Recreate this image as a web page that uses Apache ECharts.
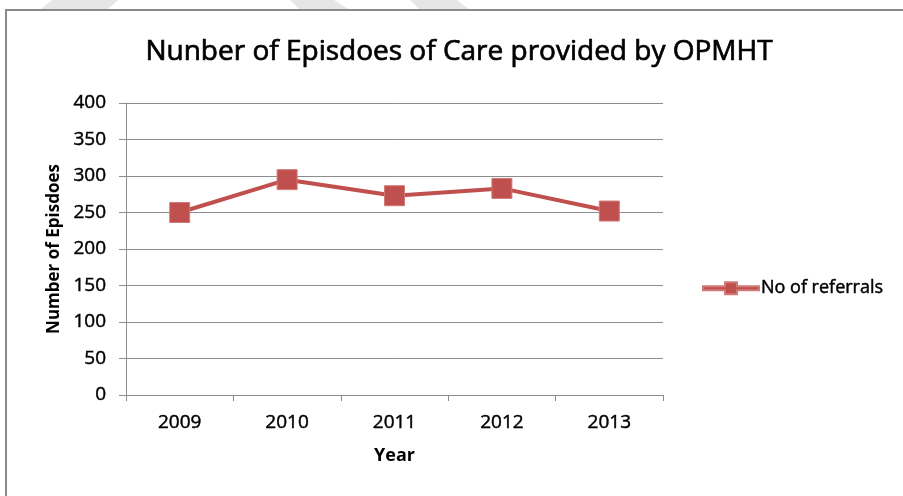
<!DOCTYPE html>
<html>
<head>
<meta charset="utf-8">
<script src="https://cdn.jsdelivr.net/npm/echarts@6/dist/echarts.min.js"></script>
<style>
  html, body { margin: 0; padding: 0; background: #ffffff; }
  #chart { width: 903px; height: 496px; }
</style>
</head>
<body>
<div id="chart"></div>
<script>
// Episodes of care per year
const years = ['2009', '2010', '2011', '2012', '2013'];
const referrals = [250, 295, 273, 283, 252];
const yTicks = { min: 0, max: 400, interval: 50 };

const seriesColor = '#c0504d';
const gridColor = '#8c8c8c';
const font = '"Open Sans", "Noto Sans", sans-serif';
// a thin outline makes the regular-weight text a little heavier
const heavier = { textBorderColor: '#000000', textBorderWidth: 0.45 };

const chart = echarts.init(document.getElementById('chart'), null, { renderer: 'canvas' });

chart.setOption({
  backgroundColor: '#ffffff',
  animation: false,
  title: {
    text: 'Nunber of Episdoes of Care provided by OPMHT',
    left: 459,
    top: 38,
    padding: 0,
    textAlign: 'center',
    textStyle: { fontFamily: font, fontSize: 28, fontWeight: 'normal', color: '#000000', textBorderColor: '#000000', textBorderWidth: 0.7 }
  },
  graphic: [
    // light diagonal bands along the top edge
    { type: 'polygon', silent: true, z: -1, shape: { points: [[52, 0], [118, 0], [107, 10], [40, 10]] }, style: { fill: '#e6e6e6' } },
    { type: 'polygon', silent: true, z: -1, shape: { points: [[290, 0], [334, 0], [350, 10], [300, 10]] }, style: { fill: '#e6e6e6' } },
    { type: 'polygon', silent: true, z: -1, shape: { points: [[410, 0], [457, 0], [470, 10], [420, 10]] }, style: { fill: '#e6e6e6' } },
    // chart frame
    { type: 'rect', silent: true, shape: { x: 6, y: 10, width: 910, height: 500 }, style: { fill: 'none', stroke: '#8a8a8a', lineWidth: 2 } }
  ],
  legend: {
    left: 702,
    top: 279,
    padding: 0,
    itemWidth: 56,
    itemHeight: 12,
    icon: 'path://M0,4 L22,4 L22,0 L34,0 L34,4 L56,4 L56,8 L34,8 L34,12 L22,12 L22,8 L0,8 Z',
    textStyle: Object.assign({ fontFamily: font, fontSize: 18, color: '#000000', padding: [0, 0, 0, -3] }, heavier),
    data: ['No of referrals']
  },
  grid: { left: 126, right: 240, top: 103, bottom: 101 },
  xAxis: {
    type: 'category',
    data: years,
    boundaryGap: true,
    name: 'Year',
    nameLocation: 'middle',
    nameGap: 52,
    nameTextStyle: { fontFamily: font, fontSize: 18, fontWeight: 'bold', color: '#000000' },
    axisLine: { lineStyle: { color: gridColor, width: 1 } },
    axisTick: { show: true, length: 6, alignWithLabel: false, lineStyle: { color: gridColor } },
    axisLabel: Object.assign({ fontFamily: font, fontSize: 19, color: '#000000', margin: 18 }, heavier)
  },
  yAxis: {
    type: 'value',
    min: yTicks.min,
    max: yTicks.max,
    interval: yTicks.interval,
    name: 'Number of Episdoes',
    nameLocation: 'middle',
    nameGap: 62,
    nameRotate: 90,
    nameTextStyle: { fontFamily: font, fontSize: 17, fontWeight: 'bold', color: '#000000' },
    axisLine: { show: true, lineStyle: { color: gridColor, width: 1 } },
    axisTick: { show: true, length: 7, inside: false, lineStyle: { color: gridColor } },
    axisLabel: Object.assign({ fontFamily: font, fontSize: 19, color: '#000000', margin: 20 }, heavier),
    splitLine: { show: true, lineStyle: { color: gridColor, width: 1 } }
  },
  series: [{
    name: 'No of referrals',
    type: 'line',
    data: referrals,
    symbol: 'rect',
    symbolSize: 20,
    lineStyle: { color: seriesColor, width: 4 },
    itemStyle: { color: seriesColor, borderColor: '#d07a77', borderWidth: 1 }
  }]
});
</script>
</body>
</html>
